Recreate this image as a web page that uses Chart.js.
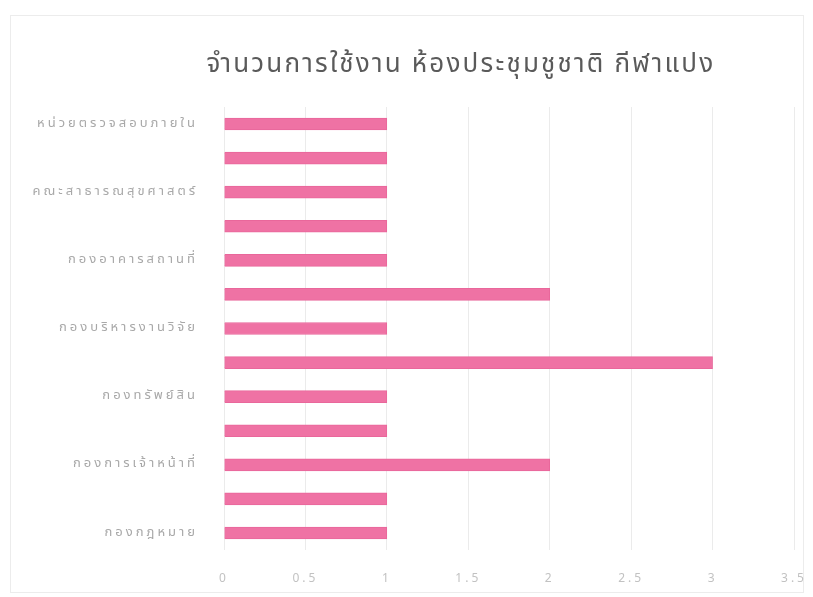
<!DOCTYPE html>
<html>
<head>
<meta charset="utf-8">
<script src="https://cdn.jsdelivr.net/npm/chart.js@4"></script>
<style>
  body { margin: 0; background: #fff; }
  #wrap { width: 813px; height: 597px; }
</style>
</head>
<body>
<div id="wrap"><canvas id="usageChart" width="813" height="597"></canvas></div>
<script>
// units, top to bottom (only every other name is shown on the axis)
const units = [
  "หน่วยตรวจสอบภายใน",
  "กองคลัง",
  "คณะสาธารณสุขศาสตร์",
  "กองแผนงาน",
  "กองอาคารสถานที่",
  "กองกลาง",
  "กองบริหารงานวิจัย",
  "สำนักงานอธิการบดี",
  "กองทรัพย์สิน",
  "กองบริการการศึกษา",
  "กองการเจ้าหน้าที่",
  "กองกิจการนักศึกษา",
  "กองกฎหมาย"
];
const usageCount = [1, 1, 1, 1, 1, 2, 1, 3, 1, 1, 2, 1, 1];
const chartTitle = "จำนวนการใช้งาน ห้องประชุมชูชาติ กีฬาแปง";

const thaiFont = "'Noto Sans Thai', 'Noto Sans', 'DejaVu Sans', sans-serif";

// faint frame, wider letter spacing for the axis text, and the title
// (the title sits left of the plot centre, so it is drawn by hand)
const framePlugin = {
  id: "frame",
  beforeDraw(chart) {
    const ctx = chart.ctx;
    ctx.save();
    ctx.fillStyle = "#fff";
    ctx.fillRect(0, 0, chart.width, chart.height);
    ctx.strokeStyle = "#ececec";
    ctx.lineWidth = 1;
    ctx.strokeRect(10.5, 15.5, chart.width - 20, chart.height - 20);
    ctx.restore();
    ctx.letterSpacing = "3px";
  },
  afterDraw(chart) {
    const ctx = chart.ctx;
    ctx.save();
    ctx.letterSpacing = "2.2px";
    ctx.font = "26px " + thaiFont;
    ctx.fillStyle = "#5a5a5a";
    ctx.textAlign = "center";
    ctx.textBaseline = "middle";
    ctx.fillText(chartTitle, 461, 67);
    ctx.restore();
    ctx.letterSpacing = "0px";
  }
};

new Chart(document.getElementById("usageChart").getContext("2d"), {
  type: "bar",
  data: {
    labels: units,
    datasets: [{
      data: usageCount,
      backgroundColor: "#EF72A4",
      borderColor: "#E9679B",
      borderWidth: 1,
      barThickness: 12
    }]
  },
  plugins: [framePlugin],
  options: {
    indexAxis: "y",
    responsive: false,
    animation: false,
    layout: {
      padding: { top: 107, left: 12, right: 19, bottom: 9 }
    },
    plugins: {
      legend: { display: false },
      tooltip: { enabled: false },
      title: { display: false }
    },
    scales: {
      x: {
        min: 0,
        max: 3.5,
        afterFit(scale) {
          scale.height = 38;
          scale.paddingLeft = 0;
          scale.paddingRight = 0;
        },
        ticks: {
          stepSize: 0.5,
          maxRotation: 0,
          color: "#c2c2c2",
          padding: 22,
          font: { family: thaiFont, size: 12 },
          callback: value => String(value)
        },
        grid: { color: "#ebebeb", drawTicks: false },
        border: { display: false }
      },
      y: {
        afterFit(scale) {
          scale.width = 212;
          scale.paddingTop = 0;
          scale.paddingBottom = 0;
        },
        ticks: {
          autoSkip: false,
          padding: 26,
          color: "#a8a8a8",
          font: { family: thaiFont, size: 13 },
          callback: function (value, index) {
            return index % 2 === 0 ? this.getLabelForValue(value) : "";
          }
        },
        grid: { display: false, drawTicks: false },
        border: { display: false }
      }
    }
  }
});
</script>
</body>
</html>
